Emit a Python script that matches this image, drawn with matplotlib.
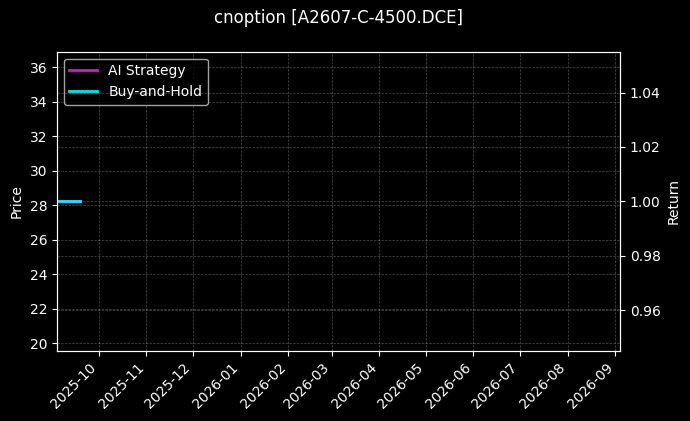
import matplotlib
matplotlib.use("Agg")
import matplotlib.pyplot as plt
import matplotlib.dates as mdates
import pandas as pd
import numpy as np

plt.style.use("dark_background")

title = "cnoption [A2607-C-4500.DCE]"
dates = pd.to_datetime(["2025-09-04", "2025-09-05", "2025-09-08", "2025-09-09",
                        "2025-09-10", "2025-09-11", "2025-09-12", "2025-09-15",
                        "2025-09-16", "2025-09-17", "2025-09-18", "2025-09-19"])
ai_return = [1.0] * len(dates)
bh_return = [1.0] * len(dates)
price_ylim = (19.55, 36.9)
x_range = pd.to_datetime(["2025-09-04", "2026-09-04"])

fig = plt.figure(figsize=(6.9, 4.21), dpi=100)
ax = fig.add_axes([0.0826, 0.1663, 0.816, 0.7109])
ax2 = ax.twinx()

ax.set_ylim(*price_ylim)
ax.set_ylabel("Price")
ax.grid(True, linestyle="--", linewidth=0.5, alpha=0.3)

l1, = ax2.plot(dates, ai_return, color="#e010e0", linewidth=2, label="AI Strategy")
l2, = ax2.plot(dates, bh_return, color="cyan", linewidth=2, label="Buy-and-Hold", alpha=0.9)
ax2.set_ylabel("Return")
ax2.grid(True, linestyle="--", linewidth=0.5, alpha=0.3)

ax.set_xlim(x_range[0], x_range[1])
ax.xaxis.set_major_locator(mdates.MonthLocator())
ax.xaxis.set_major_formatter(mdates.DateFormatter("%Y-%m"))
plt.setp(ax.get_xticklabels(), rotation=45, ha="right")

ax.legend(handles=[l1, l2], loc="upper left")
fig.text(0.4903, 0.958, title, ha="center", va="center", fontsize=12)

fig.savefig("out.png", dpi=100, facecolor="black")
